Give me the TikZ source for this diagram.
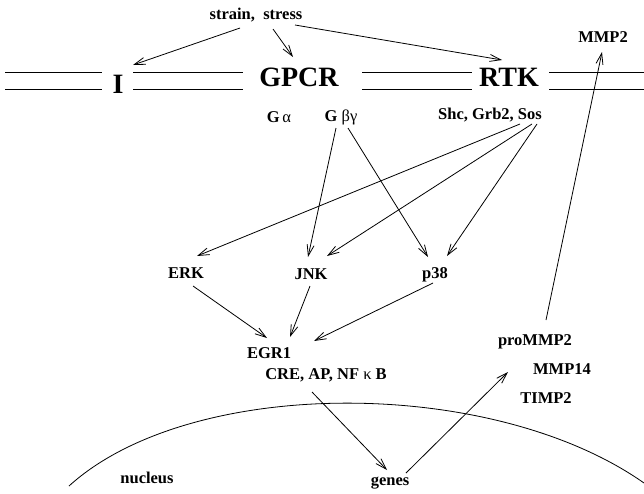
\documentclass[tikz,border=0pt]{standalone}
\usepackage{fontspec}
\setmainfont{Liberation Serif}
\usetikzlibrary{arrows.meta,calc}
\begin{document}
\begin{tikzpicture}[x=1pt,y=-1pt,
 lab/.style={font=\fontsize{16.5}{18}\selectfont\bfseries, inner sep=0pt},
 big/.style={font=\fontsize{28}{30}\selectfont\bfseries, inner sep=0pt},
 arr/.style={-{Straight Barb[length=11pt,width=7pt]}, line width=0.8pt},
 mem/.style={line width=0.8pt}]
\useasboundingbox (0,0) rectangle (644,493);
% membrane
\draw[mem] (5,72) -- (102,72) (5,89) -- (102,89);
\draw[mem] (133,72) -- (243,72) (133,89) -- (243,89);
\draw[mem] (362,72) -- (472,72) (362,89) -- (472,89);
\draw[mem] (549,72) -- (644,72) (549,89) -- (644,89);
% nucleus envelope
\draw[mem] (69,486) .. controls (190,376) and (492,376) .. (644,483);
% labels
\node[lab] (strain) at (256,15) {strain,~~stress};
\node[big] (I) at (118,84) {I};
\node[big] (gpcr) at (299,77) {GPCR};
\node[big] (rtk) at (509,77) {RTK};
\node[lab] (mmp2) at (603,37) {MMP2};
\node[lab] (ga) at (279,117) {G\,{\mdseries α}};
\node[lab] (gbg) at (341,117) {G~{\mdseries βγ}};
\node[lab] (shc) at (490,115) {Shc, Grb2, Sos};
\node[lab] (erk) at (186,273) {ERK};
\node[lab] (jnk) at (311,274) {JNK};
\node[lab] (p38) at (435,275) {p38};
\node[lab] (egr) at (269,353) {EGR1};
\node[lab] (cre) at (326,375) {CRE, AP, NF~{\mdseries κ}~B};
\node[lab] (pro) at (535,342) {proMMP2};
\node[lab] (mmp14) at (562,369) {MMP14};
\node[lab] (timp) at (546,398) {TIMP2};
\node[lab] (nuc) at (147,478) {nucleus};
\node[lab] (genes) at (390,483) {genes};
% connectors
\draw[arr] ($(strain)+(-16,13)$) -- ($(I)+(15,-19)$);
\draw[arr] ($(strain)+(17,14)$) -- ($(gpcr)+(-6,-20)$);
\draw[arr] ($(strain)+(39,10)$) -- ($(rtk)+(-7,-17)$);
\draw[arr] ($(gbg)+(-5,11)$) -- ($(jnk)+(-3,-17)$);
\draw[arr] ($(gbg)+(7,11)$) -- ($(p38)+(-7,-18)$);
\draw[arr] ($(shc)+(30,9)$) -- ($(erk)+(11,-17)$);
\draw[arr] ($(shc)+(42,9)$) -- ($(jnk)+(16,-18)$);
\draw[arr] ($(shc)+(47,9)$) -- ($(p38)+(12,-19)$);
\draw[arr] ($(erk)+(7,13)$) -- ($(egr)+(-2,-15)$);
\draw[arr] ($(jnk)+(-1,12)$) -- ($(egr)+(21,-16)$);
\draw[arr] ($(p38)+(-2,8)$) -- ($(egr)+(45,-12)$);
\draw[arr] ($(cre)+(-14,17)$) -- ($(genes)+(-3,-13)$);
\draw[arr] ($(genes)+(16,-10)$) -- ($(pro)+(-27,30)$);
\draw[arr] ($(pro)+(11,-22)$) -- ($(mmp2)+(-1,15)$);
\end{tikzpicture}
\end{document}
